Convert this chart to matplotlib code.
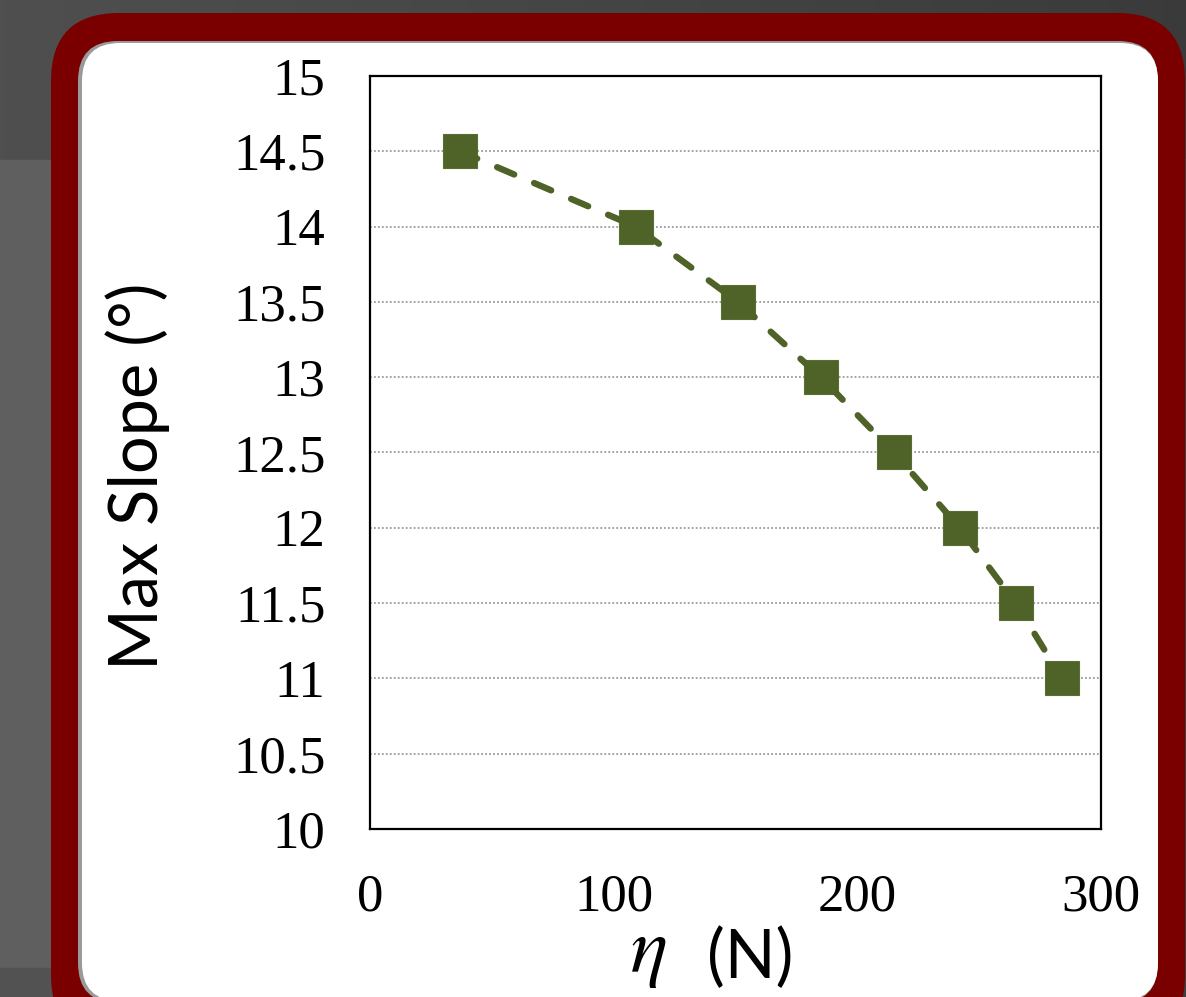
import matplotlib
matplotlib.use("Agg")
import matplotlib.pyplot as plt
import numpy as np
from matplotlib.patches import FancyBboxPatch, Rectangle

# ---- data ----
eta_N = [37, 109, 151, 185, 215, 242, 265, 284]
max_slope = [14.5, 14.0, 13.5, 13.0, 12.5, 12.0, 11.5, 11.0]
x_ticks = [0, 100, 200, 300]
y_ticks = [10, 10.5, 11, 11.5, 12, 12.5, 13, 13.5, 14, 14.5, 15]
y_tick_labels = ["10", "10.5", "11", "11.5", "12", "12.5", "13", "13.5", "14", "14.5", "15"]
x_label_sym = r"$\eta$"
x_label_unit = "(N)"
y_label = "Max Slope (°)"

plt.rcParams["mathtext.fontset"] = "stix"

W, H = 1186, 997
fig = plt.figure(figsize=(W / 100, H / 100), dpi=100)

# ---- background / frame in pixel coordinates ----
bg = fig.add_axes([0, 0, 1, 1])
bg.set_xlim(0, W)
bg.set_ylim(H, 0)
bg.axis("off")
grad = np.linspace(0.31, 0.23, 256)[None, :]
bg.imshow(np.dstack([grad, grad, grad]), extent=(0, W, 160, 0), aspect="auto", zorder=0)
bg.add_patch(Rectangle((0, 160), W, 808, color="#5f5f5f", zorder=0.5))
bg.add_patch(Rectangle((0, 968), W, 40, color="#525252", zorder=0.5))
bg.add_patch(Rectangle((1100, 160), 86, 850, color="#3f3f3f", zorder=0.6))
bg.add_patch(FancyBboxPatch((51, 13), 1134, 1030, boxstyle="round,pad=0,rounding_size=68",
                            facecolor="#7a0000", edgecolor="none", zorder=1))
bg.add_patch(FancyBboxPatch((78, 41), 1080, 962, boxstyle="round,pad=0,rounding_size=40",
                            facecolor="#9a9a9a", edgecolor="none", zorder=2))
bg.add_patch(FancyBboxPatch((82, 43), 1076, 958, boxstyle="round,pad=0,rounding_size=38",
                            facecolor="white", edgecolor="none", zorder=3))

# ---- chart ----
left, right, top, bottom = 370, 1101, 76, 829
ax = fig.add_axes([left / W, 1 - bottom / H, (right - left) / W, (bottom - top) / H])
ax.set_facecolor("white")
ax.set_xlim(0, 300)
ax.set_ylim(10, 15)
ax.set_xticks(x_ticks)
ax.set_yticks(y_ticks)
ax.set_yticklabels(y_tick_labels)
ax.tick_params(length=0, labelsize=38, pad=32)
for lab in ax.get_xticklabels() + ax.get_yticklabels():
    lab.set_fontfamily("Liberation Serif")
ax.yaxis.grid(True, linestyle=(0, (1, 1.2)), color="#9a9a9a", linewidth=1.3)
ax.set_axisbelow(True)
for s in ax.spines.values():
    s.set_linewidth(1.6)
    s.set_color("black")

ax.plot(eta_N, max_slope, linestyle="none", marker="s", markersize=24.5,
        markerfacecolor="#4f6228", markeredgecolor="#5a6e33", markeredgewidth=0.8, zorder=3)
line, = ax.plot(eta_N, max_slope, color="#4f6228", linewidth=4.6,
                dash_capstyle="round", zorder=4)
line.set_dashes((2.9, 3.4))

ax.set_ylabel(y_label, fontsize=48, fontfamily="Lato")
ax.yaxis.set_label_coords(-0.318, 0.469)
ax.yaxis.label.set_va("center")

ax.set_xlabel(x_label_unit, fontsize=48, fontfamily="Lato")
ax.xaxis.set_label_coords(0.52, -0.172)
ax.xaxis.label.set_va("center")
ax.text(0.381, -0.163, x_label_sym, transform=ax.transAxes, fontsize=56,
        ha="center", va="center")

fig.savefig("out.png", dpi=100)
